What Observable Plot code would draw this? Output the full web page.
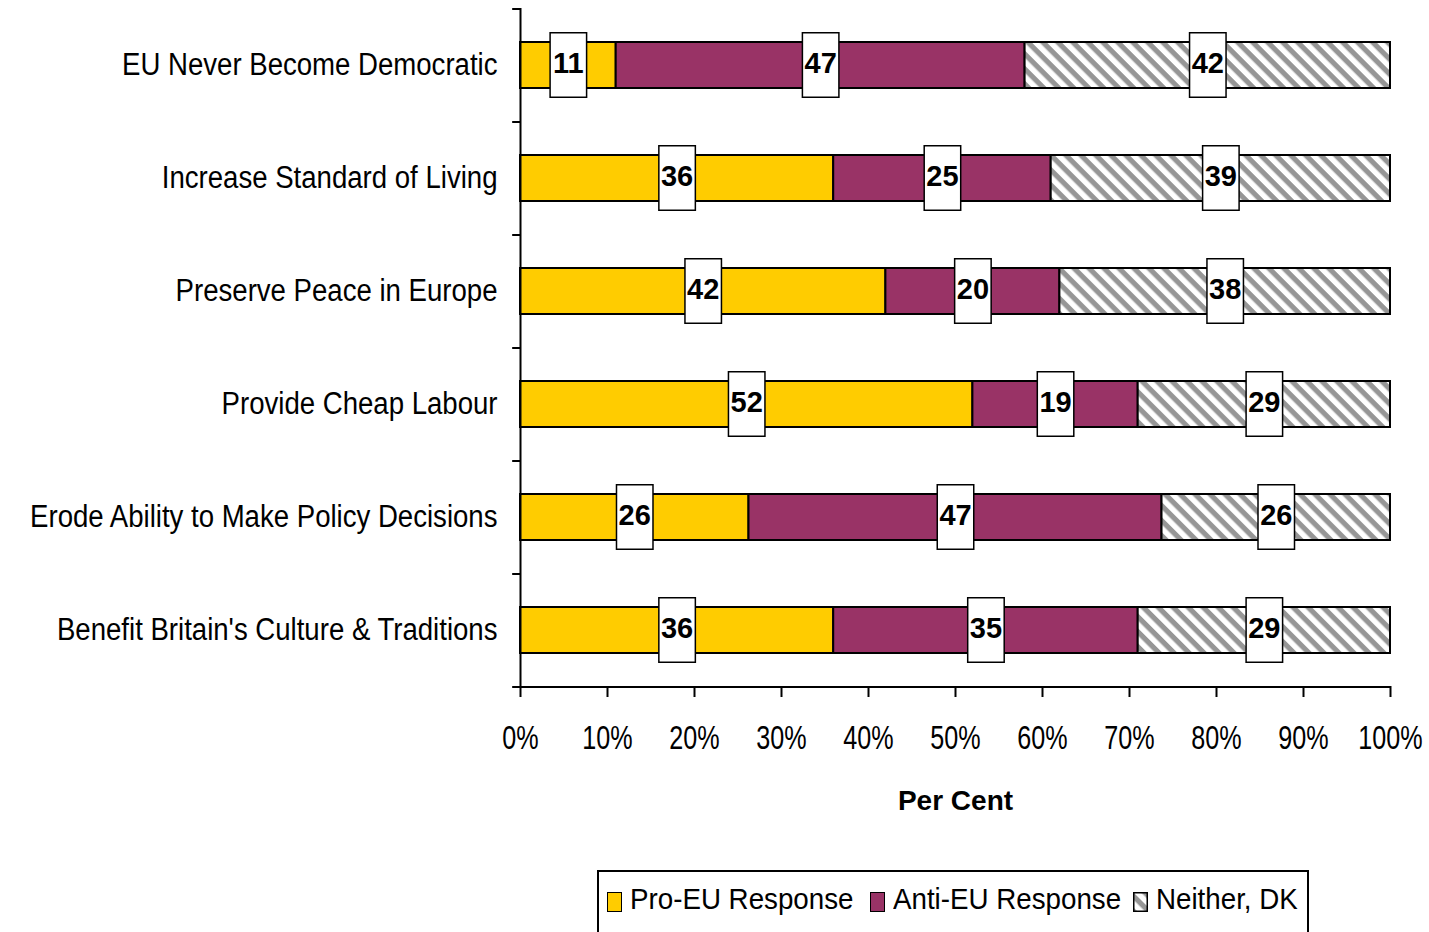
<!DOCTYPE html>
<html><head><meta charset="utf-8">
<script src="https://cdn.jsdelivr.net/npm/d3@7"></script>
<script src="https://cdn.jsdelivr.net/npm/@observablehq/plot@0.6"></script>
<style>
html,body{margin:0;padding:0;overflow:hidden;background:#fff;}
body{font-family:"Liberation Sans",Arial,sans-serif;color:#000;position:relative;width:1429px;height:932px;}
#legend{position:absolute;left:597px;top:870px;width:712px;height:90px;border:2px solid #000;box-sizing:border-box;display:flex;align-items:flex-start;padding:7px 0 0 8px;font-size:29.5px;}
#legend .item{display:flex;align-items:center;line-height:40px;width:263px;white-space:nowrap;}
#legend .item:last-child{width:170px;}
#legend .sw{width:15px;height:20px;box-sizing:border-box;border:1.5px solid #000;margin:6px 8px 0 0;display:block;flex:none;}
#legend .lbl{display:inline-block;transform:scaleX(0.94);transform-origin:left center;}
</style></head><body>
<div id="chart"></div>
<div id="legend"></div>
<script>
const categories = [
  "EU Never Become Democratic",
  "Increase Standard of Living",
  "Preserve Peace in Europe",
  "Provide Cheap Labour",
  "Erode Ability to Make Policy Decisions",
  "Benefit Britain's Culture & Traditions"
];
const series = ["Pro-EU Response", "Anti-EU Response", "Neither, DK"];
const proEU   = [11, 36, 42, 52, 26, 36];
const antiEU  = [47, 25, 20, 19, 47, 35];
const neither = [42, 39, 38, 29, 26, 29];
const xTicks = [0, 10, 20, 30, 40, 50, 60, 70, 80, 90, 100];
const xLabel = "Per Cent";
const colors = ["#FFCC00", "#993366", "url(#hatch)"];

const values = [proEU, antiEU, neither];
const data = categories.flatMap((c, i) => series.map((s, j) => ({cat: c, series: s, value: values[j][i]})));

const STEP = 113; // band step in px (for boundary ticks)
const stackOpts = {x: "value", y: "cat", z: "series", offset: "normalize"};

const defsMark = () => {
  const ns = "http://www.w3.org/2000/svg";
  const defs = document.createElementNS(ns, "defs");
  defs.innerHTML = `<pattern id="hatch" patternUnits="userSpaceOnUse" width="10.6" height="10.6" patternTransform="rotate(45)">
    <rect width="10.6" height="10.6" fill="#ffffff"></rect>
    <rect width="10.6" height="5.2" fill="#969696"></rect></pattern>`;
  return defs;
};

const chart = Plot.plot({
  width: 1429,
  height: 860,
  marginLeft: 520,
  marginRight: 39,
  marginTop: 8,
  marginBottom: 174,
  style: {fontFamily: "'Liberation Sans',Arial,sans-serif", color: "#000", background: "#fff"},
  x: {domain: [0, 1]},
  y: {domain: categories, paddingInner: 0.593, paddingOuter: 0.2965},
  color: {type: "ordinal", domain: series, range: colors},
  marks: [
    defsMark,
    Plot.barX(data, Plot.stackX({...stackOpts, fill: "series", stroke: "#000", strokeWidth: 2})),
    Plot.tickX(data, Plot.stackX({...stackOpts, stroke: "#000", strokeWidth: 38, insetTop: -10, insetBottom: -10})),
    Plot.tickX(data, Plot.stackX({...stackOpts, stroke: "#fff", strokeWidth: 35, insetTop: -8.5, insetBottom: -8.5})),
    Plot.text(data, Plot.stackX({...stackOpts, text: "value", fontWeight: "bold", fontSize: 29, fill: "#000", dy: -2, ariaLabel: "data label"})),
    Plot.ruleX([0], {stroke: "#000", strokeWidth: 2}),
    Plot.ruleY(categories, {y: d => d, x1: -0.009, x2: 0, dy: -STEP / 2, stroke: "#000", strokeWidth: 2}),
    Plot.ruleY(categories.slice(-1), {y: d => d, x1: -0.009, x2: 1, dy: STEP / 2, stroke: "#000", strokeWidth: 2}),
    Plot.axisY({tickSize: 0, tickPadding: 23, fontSize: 31, label: null}),
    Plot.axisX({ticks: xTicks.map(v => v / 100), tickFormat: d3.format(".0%"), tickSize: 11, tickPadding: 27, fontSize: 34, strokeWidth: 2, label: null}),
    Plot.text([xLabel], {frameAnchor: "bottom", dy: 123, fontWeight: "bold", fontSize: 28, fill: "#000"})
  ]
});
document.getElementById("chart").appendChild(chart);

// horizontally condense text (narrow typeface look), keeping each text's anchor point fixed
function squeeze(sel, s) {
  chart.querySelectorAll(sel).forEach(t => {
    const b = t.getBBox();
    const anchor = getComputedStyle(t).textAnchor;
    const px = anchor === "end" ? b.x + b.width : anchor === "middle" ? b.x + b.width / 2 : b.x;
    const tr = t.getAttribute("transform") || "";
    t.setAttribute("transform", `${tr} translate(${px},0) scale(${s},1) translate(${-px},0)`.trim());
  });
}
squeeze('g[aria-label="y-axis tick label"] text', 0.89);
squeeze('g[aria-label="x-axis tick label"] text', 0.74);
squeeze('g[aria-label="data label"] text', 0.78);

const legend = document.getElementById("legend");
series.forEach((s, i) => {
  const item = document.createElement("span");
  item.className = "item";
  if (i < 2) {
    const sw = document.createElement("span");
    sw.className = "sw";
    sw.style.background = colors[i];
    item.appendChild(sw);
  } else {
    const ns = "http://www.w3.org/2000/svg";
    const svg = document.createElementNS(ns, "svg");
    svg.setAttribute("width", 15); svg.setAttribute("height", 20);
    svg.style.cssText = "display:block;flex:none;margin:6px 8px 0 0";
    svg.innerHTML = `<rect x="0.75" y="0.75" width="13.5" height="18.5" fill="url(#hatch)" stroke="#000" stroke-width="1.5"></rect>`;
    item.appendChild(svg);
  }
  const lbl = document.createElement("span");
  lbl.className = "lbl";
  lbl.textContent = s;
  item.appendChild(lbl);
  legend.appendChild(item);
});
</script>
</body></html>
